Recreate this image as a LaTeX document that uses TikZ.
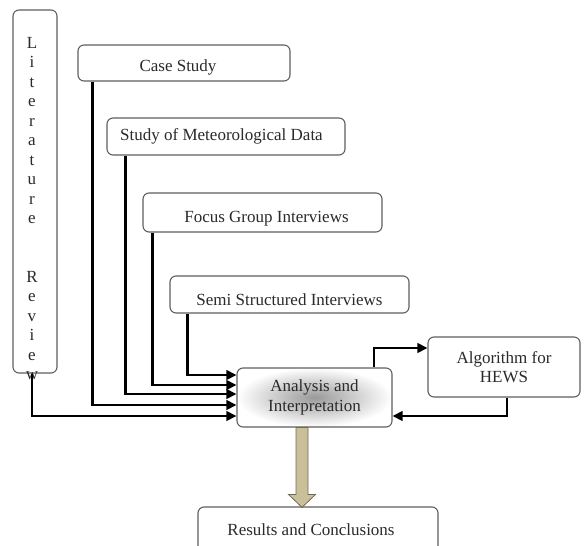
\documentclass[tikz,border=0pt]{standalone}
\usepackage{fontspec}
\setmainfont{Liberation Serif}
\usepackage{tikz}
\usetikzlibrary{arrows.meta,calc,positioning}

\definecolor{boxline}{HTML}{5F5F5F}
\definecolor{txt}{HTML}{2A2A2A}
\definecolor{khaki}{HTML}{C9C09A}
\definecolor{khakiline}{HTML}{6F6A55}

% text sitting a little lower than the box centre
\newcommand{\lowtext}[2]{\raisebox{-#1}[\height][\depth]{#2}}

\begin{document}
\begin{tikzpicture}[
  x=1pt, y=-1pt,
  font=\fontsize{17}{19.5}\selectfont,
  box/.style={draw=boxline, line width=1.1pt, rounded corners=6pt, fill=white,
              text=txt, align=center, inner sep=0pt},
  arr/.style={-{Triangle[length=10pt,width=9.5pt]}, line width=2.6pt},
  fat/.style={fill=khaki, draw=khakiline, line width=0.8pt}
]
\useasboundingbox (0,0) rectangle (585,545);
\clip (0,0) rectangle (585,545);

% literature column on the left
\node[box, minimum width=44pt, minimum height=363pt] (lit) at (35,191.5) {};
\node[text=txt, align=center, inner sep=0pt, anchor=north] (littext) at (32,37)
  {L\\i\\t\\e\\r\\a\\t\\u\\r\\e\\[39pt]R\\e\\v\\i\\e\\w};

% staircase of inputs
\node[box, minimum width=212pt, minimum height=36pt] (case)  at (184,63)    {\lowtext{4pt}{Case Study\hspace{12pt}}};
\node[box, minimum width=238pt, minimum height=37pt] (meteo) at (226,136.5) {Study of Meteorological Data\hspace{9pt}};
\node[box, minimum width=239pt, minimum height=39pt] (focus) at (262.5,212.5) {\lowtext{6pt}{\hspace{8pt}Focus Group Interviews}};
\node[box, minimum width=239pt, minimum height=37pt] (semi)  at (289.5,294.5) {\lowtext{5pt}{Semi Structured Interviews}};

% analysis and the algorithm loop
\node[box, shading=radial, inner color=gray!80, outer color=white,
      minimum width=155pt, minimum height=59pt] (ana) at (314.5,397.5) {Analysis and\\Interpretation};
\node[box, minimum width=152pt, minimum height=60pt] (algo) at (504,367) {Algorithm for\\HEWS};

\node[box, minimum width=240pt, minimum height=46pt] (res) at (318,530) {Results and Conclusions\hspace{14pt}};

% feeds into the analysis box
\draw[arr] ([xshift=18pt]semi.south west)  |- ([yshift=22.5pt]ana.west);
\draw[arr] ([xshift=10pt]focus.south west) |- ([yshift=12.5pt]ana.west);
\draw[arr] ([xshift=19pt]meteo.south west) |- ([yshift=3.5pt]ana.west);
\draw[arr] ([xshift=15pt]case.south west)  |- ([yshift=-7.5pt]ana.west);
\draw[arr] ([xshift=-3pt]lit.south)        |- ([yshift=-18.5pt]ana.west);

\draw[arr] ([xshift=59.5pt]ana.north) |- ([yshift=19pt]algo.west);
\draw[arr] ([xshift=3pt]algo.south)   |- ([yshift=-18.5pt]ana.east);

% big arrow down to the results
\coordinate (fa) at ([xshift=-12.5pt]ana.south);
\coordinate (fb) at ([xshift=-16pt,yshift=-1pt]res.north);
\draw[fat] ($(fa)+(-6,0)$) -- ($(fb)+(-6,-13)$) -- ($(fb)+(-13.5,-13)$) -- (fb)
  -- ($(fb)+(13.5,-13)$) -- ($(fb)+(6,-13)$) -- ($(fa)+(6,0)$) -- cycle;
\end{tikzpicture}
\end{document}
